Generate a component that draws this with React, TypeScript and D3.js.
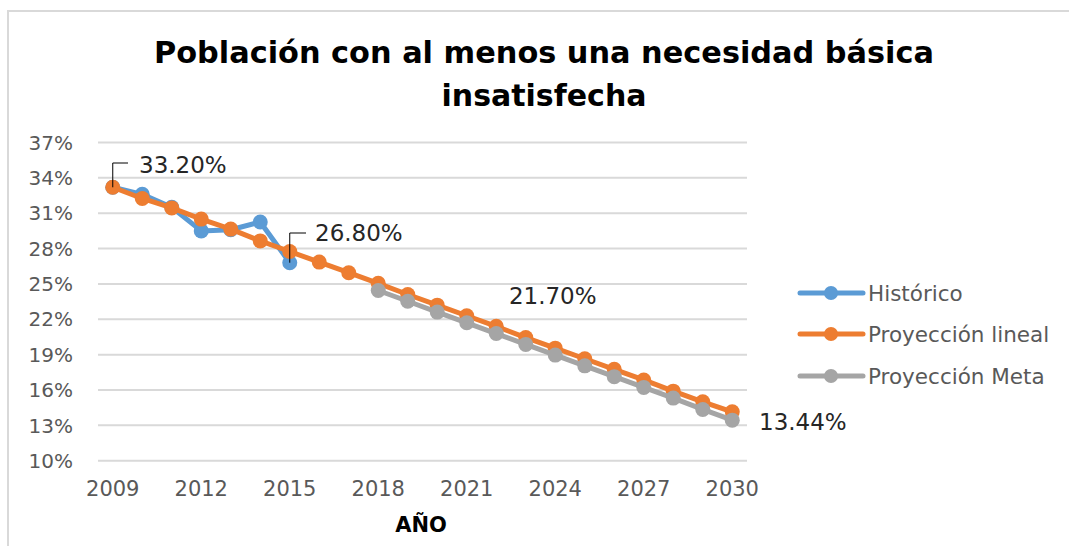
import React from "react";
import * as d3 from "d3";

const years = [2009, 2010, 2011, 2012, 2013, 2014, 2015, 2016, 2017, 2018, 2019, 2020, 2021, 2022, 2023, 2024, 2025, 2026, 2027, 2028, 2029, 2030];
const historico: [number, number][] = [
  [2009, 33.2], [2010, 32.6], [2011, 31.5], [2012, 29.5], [2013, 29.6], [2014, 30.25], [2015, 26.8],
];
const lineal: [number, number][] = [
  [2009, 33.2], [2010, 32.25], [2011, 31.45], [2012, 30.5], [2013, 29.65], [2014, 28.65], [2015, 27.75],
  [2016, 26.85], [2017, 25.95], [2018, 25.05], [2019, 24.1], [2020, 23.2], [2021, 22.3], [2022, 21.4],
  [2023, 20.45], [2024, 19.55], [2025, 18.65], [2026, 17.75], [2027, 16.85], [2028, 15.9], [2029, 15.0], [2030, 14.15],
];
const meta: [number, number][] = [
  [2018, 24.44], [2019, 23.53], [2020, 22.61], [2021, 21.7], [2022, 20.79], [2023, 19.87], [2024, 18.96],
  [2025, 18.05], [2026, 17.13], [2027, 16.22], [2028, 15.31], [2029, 14.35], [2030, 13.44],
];
const yTicks = [10, 13, 16, 19, 22, 25, 28, 31, 34, 37];
const xTickYears = [2009, 2012, 2015, 2018, 2021, 2024, 2027, 2030];
const seriesNames = ["Histórico", "Proyección lineal", "Proyección Meta"];
const colors = ["#5B9BD5", "#ED7D31", "#A5A5A5"];

const FONT = "'DejaVu Sans', sans-serif";

export default function App() {
  const x = d3.scalePoint<number>().domain(years).range([98, 747]).padding(0.5);
  const y = d3.scaleLinear().domain([10, 37]).range([460.7, 142.5]);
  const line = d3.line<[number, number]>().x((d) => x(d[0])!).y((d) => y(d[1]));
  const all = [historico, lineal, meta];

  const h09 = historico[0];
  const h15 = historico[6];
  const m21 = meta[3];
  const m30 = meta[meta.length - 1];

  return (
    <svg width={1069} height={546} style={{ position: "absolute", left: 0, top: 0, background: "#fff" }} fontFamily={FONT}>
      <rect x={0} y={0} width={1069} height={546} fill="#fff" />
      <rect x={8} y={11} width={1080} height={560} fill="none" stroke="#d9d9d9" strokeWidth={2} />
      <text x={544} y={63} textAnchor="middle" fontSize={30} fontWeight="bold" fill="#000" textLength={780} lengthAdjust="spacingAndGlyphs">
        Población con al menos una necesidad básica
      </text>
      <text x={544} y={106} textAnchor="middle" fontSize={30} fontWeight="bold" fill="#000">
        insatisfecha
      </text>
      {yTicks.map((t) => (
        <g key={t}>
          <line x1={98} x2={747} y1={y(t)} y2={y(t)} stroke="#d9d9d9" strokeWidth={2} />
          <text x={73} y={y(t)} dy="0.36em" textAnchor="end" fontSize={20} fill="#595959">
            {t}%
          </text>
        </g>
      ))}
      {xTickYears.map((t) => (
        <text key={t} x={x(t)!} y={496} textAnchor="middle" fontSize={21} fill="#595959">
          {t}
        </text>
      ))}
      <text x={421} y={532} textAnchor="middle" fontSize={21} fontWeight="bold" fill="#000">
        AÑO
      </text>
      {all.map((s, i) => (
        <g key={i}>
          <path d={line(s)!} fill="none" stroke={colors[i]} strokeWidth={5} strokeLinejoin="round" />
          {s.map((d) => (
            <circle key={d[0]} cx={x(d[0])!} cy={y(d[1])} r={7.5} fill={colors[i]} />
          ))}
        </g>
      ))}
      <path d={`M${x(h09[0])},${y(h09[1])}V163H128`} fill="none" stroke="#000" strokeWidth={1} />
      <text x={139} y={173} fontSize={23} fill="#262626">{h09[1].toFixed(2)}%</text>
      <path d={`M${x(h15[0])},${y(h15[1])}V233H306`} fill="none" stroke="#000" strokeWidth={1} />
      <text x={315} y={241} fontSize={23} fill="#262626">{h15[1].toFixed(2)}%</text>
      <text x={x(m21[0])! + 86} y={304} textAnchor="middle" fontSize={23} fill="#262626">{m21[1].toFixed(2)}%</text>
      <text x={759} y={430} fontSize={23} fill="#262626">{m30[1].toFixed(2)}%</text>
      {seriesNames.map((n, i) => {
        const cy = [293, 334, 376][i];
        return (
          <g key={n}>
            <line x1={800} x2={863} y1={cy} y2={cy} stroke={colors[i]} strokeWidth={5} strokeLinecap="round" />
            <circle cx={831} cy={cy} r={7} fill={colors[i]} />
            <text x={868} y={cy} dy="0.36em" fontSize={21.5} fill="#595959">{n}</text>
          </g>
        );
      })}
    </svg>
  );
}
